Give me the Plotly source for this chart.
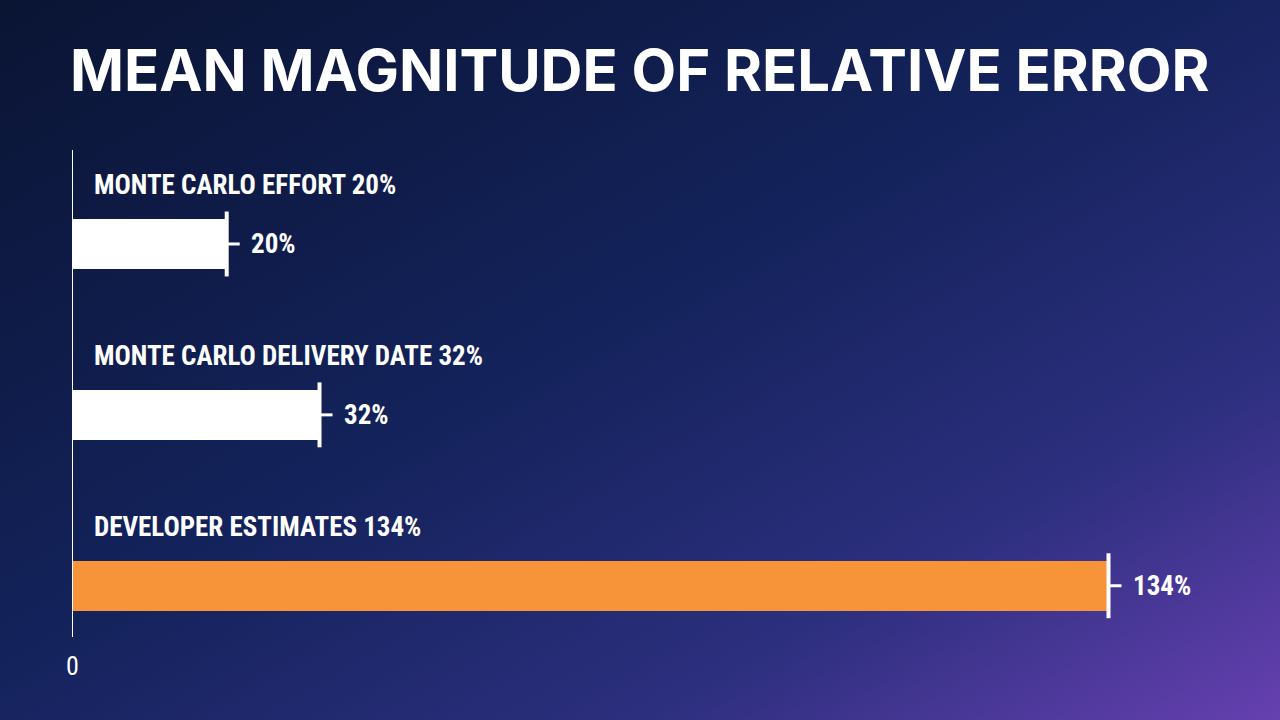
import base64
import plotly.graph_objects as go

categories = ["MONTE CARLO EFFORT", "MONTE CARLO DELIVERY DATE", "DEVELOPER ESTIMATES"]
values = [20, 32, 134]
colors = ["#ffffff", "#ffffff", "#f7943a"]
title = "MEAN MAGNITUDE OF RELATIVE ERROR"

svg = """<svg xmlns='http://www.w3.org/2000/svg' width='1280' height='720'>
<defs><linearGradient id='g' x1='0' y1='0' x2='1' y2='1'>
<stop offset='0' stop-color='#0a1433'/><stop offset='0.45' stop-color='#13225a'/>
<stop offset='0.75' stop-color='#2c2f7e'/><stop offset='1' stop-color='#6640b0'/>
</linearGradient></defs><rect width='1280' height='720' fill='url(#g)'/></svg>"""
uri = "data:image/svg+xml;base64," + base64.b64encode(svg.encode()).decode()

ypos = list(range(len(categories)))
fig = go.Figure(go.Bar(x=values, y=ypos, orientation="h", width=0.29,
                       marker=dict(color=colors, line=dict(width=0)), hoverinfo="skip"))

font = "Roboto Condensed, Roboto, sans-serif"
ann, shapes = [], []
for i, (c, v) in enumerate(zip(categories, values)):
    ann.append(dict(x=0, y=i - 0.345, xref="x", yref="y", text=f"<b>{c} {v}%</b>",
                    showarrow=False, xanchor="left", xshift=20,
                    font=dict(family=font, size=27, color="white")))
    ann.append(dict(x=v, y=i, xref="x", yref="y", text=f"<b>{v}%</b>", showarrow=False,
                    xanchor="left", xshift=22, font=dict(family=font, size=27, color="white")))
    shapes.append(dict(type="line", xref="x", yref="y", x0=v, x1=v, y0=i - 0.19, y1=i + 0.19,
                       line=dict(color="white", width=4)))
    shapes.append(dict(type="line", xref="x", yref="y", xsizemode="pixel", xanchor=v,
                       x0=0, x1=13, y0=i, y1=i, line=dict(color="white", width=3)))
shapes.append(dict(type="line", xref="x", yref="paper", x0=0, x1=0, y0=0, y1=1,
                   line=dict(color="white", width=2)))
ann.append(dict(x=0, y=0, xref="x", yref="paper", text="0", showarrow=False,
                yanchor="top", yshift=-12, font=dict(family=font, size=26, color="white")))
ann.append(dict(x=568 / 1168, y=1 + 80 / 487, xref="paper", yref="paper", yanchor="middle",
                xanchor="center", text=f"<b>{title}</b>", showarrow=False,
                font=dict(family="Inter, Lato, sans-serif", size=58, color="white", weight=900)))

fig.update_layout(
    width=1280, height=720, margin=dict(l=72, r=40, t=150, b=83),
    paper_bgcolor="#0a1433", plot_bgcolor="rgba(0,0,0,0)",
    images=[dict(source=uri, xref="paper", yref="paper", x=-72/1168, y=1+150/487,
                 sizex=1280/1168, sizey=720/487, xanchor="left", yanchor="top",
                 sizing="stretch", layer="below")],
    xaxis=dict(range=[0, 151], visible=False, fixedrange=True),
    yaxis=dict(range=[2.30, -0.55], visible=False, fixedrange=True),
    annotations=ann, shapes=shapes, showlegend=False, bargap=0,
)
fig.write_html("out.html", config={"displayModeBar": False})
with open("out.html") as f:
    html = f.read()
html = html.replace("<body>", "<body style=\"margin:0;overflow:hidden\">", 1)
with open("out.html", "w") as f:
    f.write(html)
